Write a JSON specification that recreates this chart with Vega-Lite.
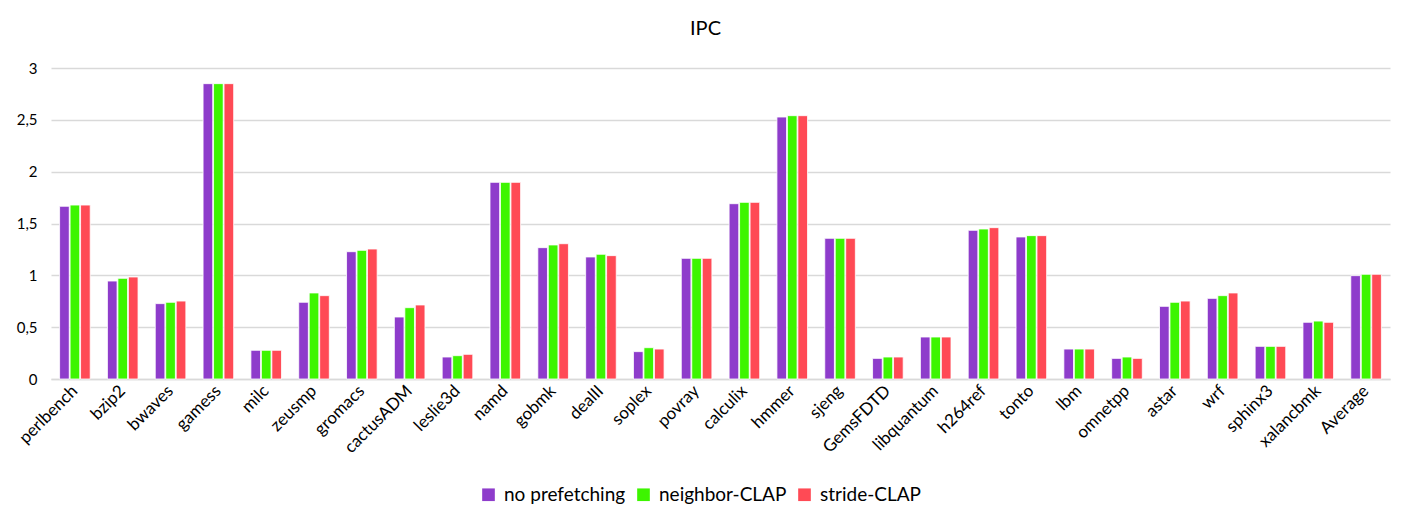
{
  "$schema": "https://vega.github.io/schema/vega-lite/v6.json",
  "autosize": {"type": "none"},
  "width": 1339,
  "height": 311,
  "padding": {"left": 51, "top": 68, "right": 19, "bottom": 144},
  "background": "white",
  "title": {"text": "IPC", "fontSize": 20, "font": "Lato", "fontWeight": "normal", "color": "#000000", "offset": 22, "dx": -15},
  "config": {
    "view": {"stroke": null},
    "font": "Lato"
  },
  "data": {
    "values": [
      {"bench": "perlbench", "config": "no prefetching", "ipc": 1.666},
      {"bench": "perlbench", "config": "neighbor-CLAP", "ipc": 1.678},
      {"bench": "perlbench", "config": "stride-CLAP", "ipc": 1.678},
      {"bench": "bzip2", "config": "no prefetching", "ipc": 0.945},
      {"bench": "bzip2", "config": "neighbor-CLAP", "ipc": 0.971},
      {"bench": "bzip2", "config": "stride-CLAP", "ipc": 0.984},
      {"bench": "bwaves", "config": "no prefetching", "ipc": 0.727},
      {"bench": "bwaves", "config": "neighbor-CLAP", "ipc": 0.740},
      {"bench": "bwaves", "config": "stride-CLAP", "ipc": 0.752},
      {"bench": "gamess", "config": "no prefetching", "ipc": 2.849},
      {"bench": "gamess", "config": "neighbor-CLAP", "ipc": 2.849},
      {"bench": "gamess", "config": "stride-CLAP", "ipc": 2.849},
      {"bench": "milc", "config": "no prefetching", "ipc": 0.277},
      {"bench": "milc", "config": "neighbor-CLAP", "ipc": 0.277},
      {"bench": "milc", "config": "stride-CLAP", "ipc": 0.277},
      {"bench": "zeusmp", "config": "no prefetching", "ipc": 0.740},
      {"bench": "zeusmp", "config": "neighbor-CLAP", "ipc": 0.830},
      {"bench": "zeusmp", "config": "stride-CLAP", "ipc": 0.804},
      {"bench": "gromacs", "config": "no prefetching", "ipc": 1.228},
      {"bench": "gromacs", "config": "neighbor-CLAP", "ipc": 1.241},
      {"bench": "gromacs", "config": "stride-CLAP", "ipc": 1.254},
      {"bench": "cactusADM", "config": "no prefetching", "ipc": 0.598},
      {"bench": "cactusADM", "config": "neighbor-CLAP", "ipc": 0.688},
      {"bench": "cactusADM", "config": "stride-CLAP", "ipc": 0.714},
      {"bench": "leslie3d", "config": "no prefetching", "ipc": 0.212},
      {"bench": "leslie3d", "config": "neighbor-CLAP", "ipc": 0.225},
      {"bench": "leslie3d", "config": "stride-CLAP", "ipc": 0.238},
      {"bench": "namd", "config": "no prefetching", "ipc": 1.897},
      {"bench": "namd", "config": "neighbor-CLAP", "ipc": 1.897},
      {"bench": "namd", "config": "stride-CLAP", "ipc": 1.897},
      {"bench": "gobmk", "config": "no prefetching", "ipc": 1.267},
      {"bench": "gobmk", "config": "neighbor-CLAP", "ipc": 1.293},
      {"bench": "gobmk", "config": "stride-CLAP", "ipc": 1.305},
      {"bench": "dealII", "config": "no prefetching", "ipc": 1.177},
      {"bench": "dealII", "config": "neighbor-CLAP", "ipc": 1.203},
      {"bench": "dealII", "config": "stride-CLAP", "ipc": 1.190},
      {"bench": "soplex", "config": "no prefetching", "ipc": 0.264},
      {"bench": "soplex", "config": "neighbor-CLAP", "ipc": 0.302},
      {"bench": "soplex", "config": "stride-CLAP", "ipc": 0.289},
      {"bench": "povray", "config": "no prefetching", "ipc": 1.164},
      {"bench": "povray", "config": "neighbor-CLAP", "ipc": 1.164},
      {"bench": "povray", "config": "stride-CLAP", "ipc": 1.164},
      {"bench": "calculix", "config": "no prefetching", "ipc": 1.691},
      {"bench": "calculix", "config": "neighbor-CLAP", "ipc": 1.704},
      {"bench": "calculix", "config": "stride-CLAP", "ipc": 1.704},
      {"bench": "hmmer", "config": "no prefetching", "ipc": 2.527},
      {"bench": "hmmer", "config": "neighbor-CLAP", "ipc": 2.540},
      {"bench": "hmmer", "config": "stride-CLAP", "ipc": 2.540},
      {"bench": "sjeng", "config": "no prefetching", "ipc": 1.357},
      {"bench": "sjeng", "config": "neighbor-CLAP", "ipc": 1.357},
      {"bench": "sjeng", "config": "stride-CLAP", "ipc": 1.357},
      {"bench": "GemsFDTD", "config": "no prefetching", "ipc": 0.199},
      {"bench": "GemsFDTD", "config": "neighbor-CLAP", "ipc": 0.212},
      {"bench": "GemsFDTD", "config": "stride-CLAP", "ipc": 0.212},
      {"bench": "libquantum", "config": "no prefetching", "ipc": 0.405},
      {"bench": "libquantum", "config": "neighbor-CLAP", "ipc": 0.405},
      {"bench": "libquantum", "config": "stride-CLAP", "ipc": 0.405},
      {"bench": "h264ref", "config": "no prefetching", "ipc": 1.434},
      {"bench": "h264ref", "config": "neighbor-CLAP", "ipc": 1.447},
      {"bench": "h264ref", "config": "stride-CLAP", "ipc": 1.460},
      {"bench": "tonto", "config": "no prefetching", "ipc": 1.370},
      {"bench": "tonto", "config": "neighbor-CLAP", "ipc": 1.383},
      {"bench": "tonto", "config": "stride-CLAP", "ipc": 1.383},
      {"bench": "lbm", "config": "no prefetching", "ipc": 0.289},
      {"bench": "lbm", "config": "neighbor-CLAP", "ipc": 0.289},
      {"bench": "lbm", "config": "stride-CLAP", "ipc": 0.289},
      {"bench": "omnetpp", "config": "no prefetching", "ipc": 0.199},
      {"bench": "omnetpp", "config": "neighbor-CLAP", "ipc": 0.212},
      {"bench": "omnetpp", "config": "stride-CLAP", "ipc": 0.199},
      {"bench": "astar", "config": "no prefetching", "ipc": 0.701},
      {"bench": "astar", "config": "neighbor-CLAP", "ipc": 0.740},
      {"bench": "astar", "config": "stride-CLAP", "ipc": 0.752},
      {"bench": "wrf", "config": "no prefetching", "ipc": 0.778},
      {"bench": "wrf", "config": "neighbor-CLAP", "ipc": 0.804},
      {"bench": "wrf", "config": "stride-CLAP", "ipc": 0.830},
      {"bench": "sphinx3", "config": "no prefetching", "ipc": 0.315},
      {"bench": "sphinx3", "config": "neighbor-CLAP", "ipc": 0.315},
      {"bench": "sphinx3", "config": "stride-CLAP", "ipc": 0.315},
      {"bench": "xalancbmk", "config": "no prefetching", "ipc": 0.547},
      {"bench": "xalancbmk", "config": "neighbor-CLAP", "ipc": 0.559},
      {"bench": "xalancbmk", "config": "stride-CLAP", "ipc": 0.547},
      {"bench": "Average", "config": "no prefetching", "ipc": 0.997},
      {"bench": "Average", "config": "neighbor-CLAP", "ipc": 1.010},
      {"bench": "Average", "config": "stride-CLAP", "ipc": 1.010}
    ]
  },
  "mark": {"type": "bar", "stroke": "white", "strokeWidth": 0.8},
  "encoding": {
    "x": {
      "field": "bench", "type": "nominal", "sort": null, "title": null,
      "scale": {"paddingInner": 0.36, "paddingOuter": 0.18},
      "axis": {
        "labelAngle": -45, "labelAlign": "right", "labelBaseline": "middle",
        "labelFontSize": 17, "labelColor": "#000000", "labelPadding": 9,
        "ticks": false, "domainColor": "#D9D9D9", "domainWidth": 1.5, "labelFont": "Lato"
      }
    },
    "xOffset": {"field": "config", "type": "nominal", "sort": ["no prefetching", "neighbor-CLAP", "stride-CLAP"], "scale": {"paddingInner": 0.08}},
    "y": {
      "field": "ipc", "type": "quantitative", "title": null,
      "scale": {"domain": [0, 3], "nice": false},
      "axis": {
        "values": [0, 0.5, 1, 1.5, 2, 2.5, 3],
        "labelExpr": "replace(toString(datum.value), '.', ',')",
        "domain": false, "ticks": false, "labelPadding": 14,
        "labelFontSize": 15, "labelColor": "#000000", "labelFont": "Lato",
        "gridColor": "#D9D9D9", "gridWidth": 1.5
      }
    },
    "color": {
      "field": "config", "type": "nominal",
      "sort": ["no prefetching", "neighbor-CLAP", "stride-CLAP"],
      "scale": {"domain": ["no prefetching", "neighbor-CLAP", "stride-CLAP"], "range": ["#8E3CCB", "#3DF500", "#FF4A55"]},
      "legend": {
        "title": null, "orient": "none", "direction": "horizontal",
        "legendX": 428, "legendY": 417,
        "symbolType": "square", "symbolSize": 160, "symbolStrokeWidth": 0,
        "labelFontSize": 19, "labelColor": "#000000", "labelFont": "Lato",
        "columnPadding": 8, "labelOffset": 6
      }
    }
  }
}
